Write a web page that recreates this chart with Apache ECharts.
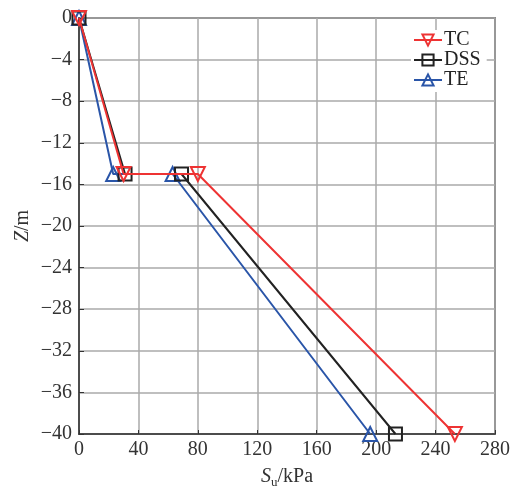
<!DOCTYPE html>
<html><head><meta charset="utf-8">
<script src="https://cdn.jsdelivr.net/npm/echarts@6/dist/echarts.min.js"></script>
<style>html,body{margin:0;padding:0;background:#fff}#c{width:516px;height:486px}</style>
</head><body><div id="c"></div>
<script>
var seriesNames = ['TC', 'DSS', 'TE'];
var tcSu = [0, 30, 80, 253];
var tcZ = [0, -15, -15, -40];
var dssSu = [0, 31, 69, 213];
var dssZ = [0, -15, -15, -40];
var teSu = [0, 23, 63, 196];
var teZ = [0, -15, -15, -40];
var xTicks = [0, 40, 80, 120, 160, 200, 240, 280];
var yTicks = [0, -4, -8, -12, -16, -20, -24, -28, -32, -36, -40];

function pairs(xs, ys) { return xs.map(function (x, i) { return [x, ys[i]]; }); }
var colors = ['#ee3333', '#222222', '#2a55a8'];
var symbols = ['triangle', 'rect', 'triangle'];
var rot = [180, 0, 0];
var sizes = [14, 13, 14];
var dataSets = [pairs(tcSu, tcZ), pairs(dssSu, dssZ), pairs(teSu, teZ)];
var font = 'Liberation Serif';
var fs = 20;
var chart = echarts.init(document.getElementById('c'));
var minus = function (v) { return String(v).replace('-', '\u2212'); };
chart.setOption({
  animation: false,
  grid: { left: 79, right: 21, top: 18, bottom: 52, show: true, borderColor: '#333', borderWidth: 1.5,
          backgroundColor: 'transparent', containLabel: false, outerBoundsMode: 'none' },
  legend: {
    data: seriesNames, orient: 'vertical', left: 411, top: 30,
    backgroundColor: '#fff', padding: [0, 6, 2, 2], itemGap: 0,
    itemWidth: 28, itemHeight: 14,
    textStyle: { fontFamily: font, fontSize: fs, color: '#222', lineHeight: 18, padding: [0, 0, 0, -3] }
  },
  xAxis: {
    type: 'value', min: 0, max: 280, interval: 40,
    name: '{i|S}{s|u}{n|/kPa}', nameLocation: 'middle', nameGap: 30, nameMoveOverlap: false,
    nameTextStyle: { verticalAlign: 'top', rich: {
      i: { fontFamily: font, fontStyle: 'italic', fontSize: fs, color: '#333' },
      s: { fontFamily: font, fontSize: 13, color: '#333', padding: [12, 0, 0, 0] },
      n: { fontFamily: font, fontSize: fs, color: '#333' } } },
    axisLine: { onZero: false, lineStyle: { color: '#333', width: 1.5 } },
    axisTick: { inside: true, length: 4, lineStyle: { color: '#333' } },
    axisLabel: { fontFamily: font, fontSize: fs, color: '#333', margin: 6 },
    splitLine: { lineStyle: { color: '#aaa', width: 1.5 } }
  },
  yAxis: {
    type: 'value', min: -40, max: 0, interval: 4,
    name: '{i|Z}{n|/m}', nameLocation: 'middle', nameGap: 46, nameRotate: 90, nameMoveOverlap: false,
    nameTextStyle: { rich: {
      i: { fontFamily: font, fontStyle: 'italic', fontSize: fs, color: '#333' },
      n: { fontFamily: font, fontSize: fs, color: '#333' } } },
    axisLine: { onZero: false, lineStyle: { color: '#333', width: 1.5 } },
    axisTick: { inside: true, length: 5, lineStyle: { color: '#333' } },
    axisLabel: { fontFamily: font, fontSize: fs, color: '#333', margin: 7, formatter: minus },
    splitLine: { lineStyle: { color: '#aaa', width: 1.5 } }
  },
  series: seriesNames.map(function (n, i) {
    return {
      name: n, type: 'line', data: dataSets[i], symbol: symbols[i], symbolSize: sizes[i], symbolRotate: rot[i],
      lineStyle: { color: colors[i], width: 2 },
      itemStyle: { color: 'rgba(255,255,255,0)', borderColor: colors[i], borderWidth: 2 },
      z: 3 - i
    };
  })
});
</script></body></html>
